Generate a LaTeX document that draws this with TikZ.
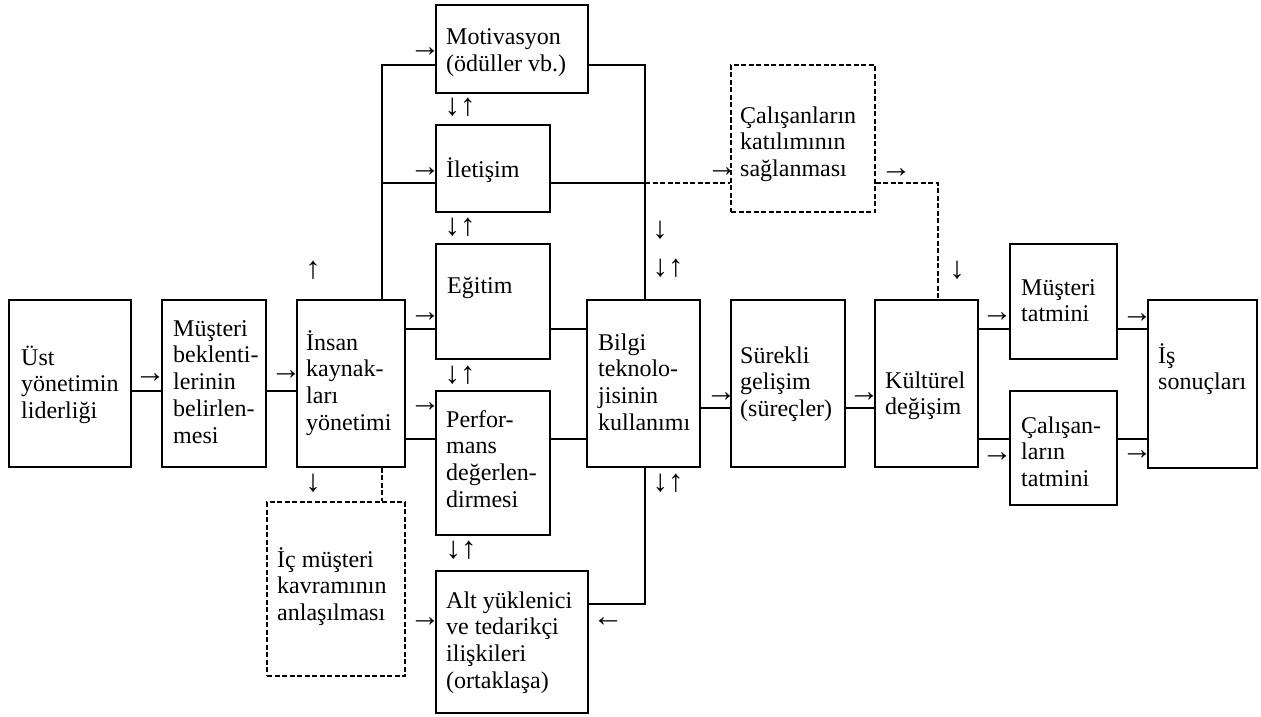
\documentclass[tikz,border=0pt]{standalone}
\usepackage{fontspec}
\setmainfont{Liberation Serif}
\usetikzlibrary{calc}
\newcommand{\mlines}[1]{\begin{tabular}[t]{@{}l@{}}#1\end{tabular}}
\begin{document}
\begin{tikzpicture}[x=1pt,y=-1pt,
  every node/.style={font=\fontsize{24}{26.8}\selectfont},
  box/.style={draw, line width=1.8pt, inner sep=0pt},
  dbox/.style={box, dash pattern=on 5pt off 2.5pt},
  ln/.style={line width=1.8pt},
  dln/.style={ln, dash pattern=on 5pt off 2.5pt},
  txt/.style={anchor=base west, inner sep=0pt},
  arr/.style={inner sep=0pt, anchor=center, font=\fontsize{31}{31}\selectfont}]
\fill[white] (0,0) rectangle (1261,717);
\useasboundingbox (0,0) rectangle (1261,717);

% boxes
\node[box, minimum width=122pt, minimum height=167pt] (b1) at (70,383.5) {};
\node[box, minimum width=104pt, minimum height=167pt] (b2) at (214,383.5) {};
\node[box, minimum width=108pt, minimum height=167pt] (b3) at (351,383.5) {};
\node[box, minimum width=152pt, minimum height=88pt] (mot) at (512,49) {};
\node[box, minimum width=114pt, minimum height=87pt] (ilt) at (493,168.5) {};
\node[box, minimum width=114pt, minimum height=115pt] (egt) at (493,301.5) {};
\node[box, minimum width=114pt, minimum height=144pt] (prf) at (493,463) {};
\node[box, minimum width=152pt, minimum height=142pt] (alt) at (512,642) {};
\node[dbox, minimum width=138pt, minimum height=174pt] (ic) at (336,589) {};
\node[box, minimum width=113pt, minimum height=167pt] (bil) at (643.5,383.5) {};
\node[dbox, minimum width=144pt, minimum height=147pt] (cal) at (803,138.5) {};
\node[box, minimum width=114pt, minimum height=167pt] (sur) at (788,383.5) {};
\node[box, minimum width=103pt, minimum height=167pt] (kul) at (926.5,383.5) {};
\node[box, minimum width=107pt, minimum height=115pt] (mt) at (1063.5,301.5) {};
\node[box, minimum width=107pt, minimum height=114pt] (ct) at (1063.5,448) {};
\node[box, minimum width=109pt, minimum height=168pt] (is) at (1202.5,384) {};

% texts
\node[txt] (t1) at (21,365) {\mlines{Üst\\yönetimin\\liderliği}};
\node[txt] (t2) at (173,336) {\mlines{Müşteri\\beklenti-\\lerinin\\belirlen-\\mesi}};
\node[txt] (t3) at (306,350) {\mlines{İnsan\\kaynak-\\ları\\yönetimi}};
\node[txt] (tmot) at (446,45) {\mlines{Motivasyon\\(ödüller vb.)}};
\node[txt] (tilt) at (446,177) {İletişim};
\node[txt] (tegt) at (447,293) {Eğitim};
\node[txt] (tprf) at (446,427) {\mlines{Perfor-\\mans\\değerlen-\\dirmesi}};
\node[txt] (talt) at (446,608) {\mlines{Alt yüklenici\\ve tedarikçi\\ilişkileri\\(ortaklaşa)}};
\node[txt] (tic) at (277,567) {\mlines{İç müşteri\\kavramının\\anlaşılması}};
\node[txt] (tbil) at (598,350) {\mlines{Bilgi\\teknolo-\\jisinin\\kullanımı}};
\node[txt] (tcal) at (740,123) {\mlines{Çalışanların\\katılımının\\sağlanması}};
\node[txt] (tsur) at (740,363) {\mlines{Sürekli\\gelişim\\(süreçler)}};
\node[txt] (tkul) at (885,388) {\mlines{Kültürel\\değişim}};
\node[txt] (tmt) at (1021,295) {\mlines{Müşteri\\tatmini}};
\node[txt] (tct) at (1021,433) {\mlines{Çalışan-\\ların\\tatmini}};
\node[txt] (tis) at (1158,363) {\mlines{İş\\sonuçları}};

% junction coordinates
\coordinate (m0) at ([yshift=-7.5pt]b1.east);
\coordinate (j1) at ([xshift=31pt]b3.north);
\coordinate (j2) at ([xshift=1.5pt]bil.north);
\coordinate (j3) at ([xshift=11.5pt]kul.north);
\coordinate (mot-in) at ([yshift=-16pt]mot.west);
\coordinate (ilt-in) at ([yshift=-14.5pt]ilt.west);
\coordinate (egt-in) at ([yshift=-27.5pt]egt.west);
\coordinate (prf-in) at ([yshift=24pt]prf.west);
\coordinate (alt-out) at ([yshift=38pt]alt.east);
\coordinate (m1) at ([yshift=-24.5pt]bil.east);

% connectors
\draw[ln] (m0) -- (m0 -| b2.west);
\draw[ln] (m0 -| b2.east) -- (m0 -| b3.west);
\draw[ln] (j1) |- (mot-in);
\draw[ln] (j1 |- ilt-in) -- (ilt-in);
\draw[ln] (b3.east |- egt-in) -- (egt-in);
\draw[ln] (b3.east |- prf-in) -- (prf-in);
\draw[ln] (egt-in -| egt.east) -- (egt-in -| bil.west);
\draw[ln] (prf-in -| prf.east) -- (prf-in -| bil.west);
\draw[ln] (mot-in -| mot.east) -| (j2);
\draw[ln] (ilt-in -| ilt.east) -- (ilt-in -| j2);
\draw[dln] (ilt-in -| j2) -- (ilt-in -| cal.west);
\draw[dln] (ilt-in -| cal.east) -| (j3);
\draw[dln] (j1 |- b3.south) -- (j1 |- ic.north);
\draw[ln] (alt-out) -| (j2 |- bil.south);
\draw[ln] (m1) -- (m1 -| sur.west);
\draw[ln] (m1 -| sur.east) -- (m1 -| kul.west);
\draw[ln] (egt-in -| kul.east) -- (egt-in -| mt.west);
\draw[ln] (prf-in -| kul.east) -- (prf-in -| ct.west);
\draw[ln] (egt-in -| mt.east) -- (egt-in -| is.west);
\draw[ln] (prf-in -| ct.east) -- (prf-in -| is.west);

% arrow glyphs
\node[arr] (a1) at (150,378) {→};
\node[arr] (a2) at (286,375) {→};
\node[arr] (a3) at (313,270) {↑};
\node[arr] (a4) at (425,52) {→};
\node[arr] (a5) at (460,107) {↓↑};
\node[arr] (a6) at (425,172) {→};
\node[arr] (a7) at (460,227) {↓↑};
\node[arr] (a8) at (425,317) {→};
\node[arr] (a9) at (460,375) {↓↑};
\node[arr] (a10) at (425,407) {→};
\node[arr] (a11) at (313,483) {↓};
\node[arr] (a12) at (461,550) {↓↑};
\node[arr] (a13) at (425,622) {→};
\node[arr] (a14) at (608,622) {←};
\node[arr] (a15) at (668,483) {↓↑};
\node[arr] (a16) at (660,230) {↓};
\node[arr] (a17) at (668,268) {↓↑};
\node[arr] (a18) at (722,172) {→};
\node[arr] (a19) at (896,173) {→};
\node[arr] (a20) at (957,270) {↓};
\node[arr] (a21) at (721,397) {→};
\node[arr] (a22) at (864,397) {→};
\node[arr] (a23) at (997,317) {→};
\node[arr] (a24) at (997,457) {→};
\node[arr] (a25) at (1137,318) {→};
\node[arr] (a26) at (1137,455) {→};
\end{tikzpicture}
\end{document}
